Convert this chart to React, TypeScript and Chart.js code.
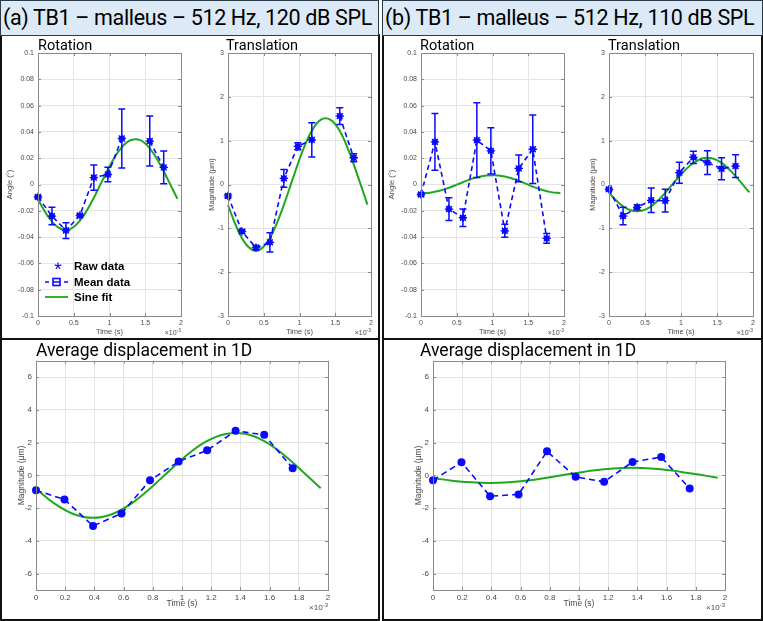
import { useEffect, useRef } from 'react';
import { Chart, registerables } from 'chart.js';

Chart.register(...registerables);

// ---- sampling instants (ms; axis shows seconds ×10^-3) ----
const sampleTimes = [0, 0.195, 0.391, 0.586, 0.781, 0.977, 1.172, 1.367, 1.563, 1.758];
const fitTimes = [0, 0.13, 0.26, 0.39, 0.52, 0.65, 0.78, 0.91, 1.04, 1.17, 1.3, 1.43, 1.56, 1.69, 1.82, 1.95];

// ---- tick labels ----
const timeTicksTop = [0, 0.5, 1, 1.5, 2];
const timeTicksBottom = [0, 0.2, 0.4, 0.6, 0.8, 1, 1.2, 1.4, 1.6, 1.8, 2];
const angleTicks = [-0.1, -0.08, -0.06, -0.04, -0.02, 0, 0.02, 0.04, 0.06, 0.08, 0.1];
const translationTicks = [-3, -2, -1, 0, 1, 2, 3];
const displacementTicks = [-6, -4, -2, 0, 2, 4, 6];

// ---- (a) 512 Hz, 120 dB SPL ----
const rotation120 = [-0.0095, -0.024, -0.035, -0.0235, 0.0053, 0.0076, 0.035, null, 0.033, 0.013];
const rotation120Err = [0.0012, 0.0067, 0.006, 0.0012, 0.0096, 0.0055, 0.0225, null, 0.019, 0.0125];
const rotation120Fit = [-0.0113, -0.0235, -0.0317, -0.0345, -0.0313, -0.0227, -0.0102, 0.0041, 0.0176, 0.0282, 0.0338, 0.0337, 0.0277, 0.017, 0.0033, -0.0109];

const translation120 = [-0.26, -1.07, -1.44, -1.32, 0.14, 0.87, 1.02, null, 1.56, 0.61];
const translation120Err = [0.04, 0.04, 0.05, 0.22, 0.2, 0.08, 0.39, null, 0.19, 0.09];
const translation120Fit = [-0.47, -1.01, -1.38, -1.51, -1.38, -1.01, -0.47, 0.15, 0.75, 1.22, 1.48, 1.48, 1.23, 0.76, 0.17, -0.46];

const displacement120 = [-0.91, -1.47, -3.09, -2.32, -0.3, 0.85, 1.53, 2.72, 2.48, 0.44];
const displacement120Fit = [-0.81, -1.74, -2.37, -2.59, -2.37, -1.74, -0.81, 0.26, 1.29, 2.09, 2.53, 2.54, 2.11, 1.31, 0.29, -0.78];

// ---- (b) 512 Hz, 110 dB SPL ----
const rotation110 = [-0.0076, 0.0324, -0.0187, -0.0253, 0.0337, 0.0256, -0.0352, 0.0122, 0.0268, -0.041];
const rotation110Err = [0.0012, 0.0215, 0.0086, 0.0066, 0.0284, 0.0176, 0.005, 0.0102, 0.026, 0.0037];
const rotation110Fit = [-0.0066, -0.0062, -0.0048, -0.0025, 0.0003, 0.0031, 0.0054, 0.0068, 0.007, 0.0061, 0.0041, 0.0014, -0.0015, -0.004, -0.0058, -0.0066];

const translation110 = [-0.11, -0.72, -0.52, -0.36, -0.37, 0.27, 0.62, 0.5, 0.36, 0.42];
const translation110Err = [0.03, 0.2, 0.05, 0.28, 0.26, 0.24, 0.14, 0.27, 0.25, 0.26];
const translation110Fit = [-0.19, -0.41, -0.56, -0.61, -0.56, -0.41, -0.19, 0.06, 0.3, 0.49, 0.6, 0.6, 0.5, 0.31, 0.07, -0.18];

const displacement110 = [-0.29, 0.8, -1.27, -1.16, 1.47, -0.09, -0.39, 0.82, 1.12, -0.8];
const displacement110Fit = [-0.17, -0.32, -0.42, -0.46, -0.42, -0.31, -0.14, 0.05, 0.23, 0.37, 0.45, 0.45, 0.37, 0.23, 0.05, -0.14];

const BLUE = '#0a0aff';
const GREEN = '#1fa81f';
const GRID = '#e4e4e4';
const FRAME = '#8a8a8a';
const LABEL = '#4a4a4a';
const SANS = '"Liberation Sans", Arial, Helvetica, sans-serif';
const TITLE_FONT = 'Roboto, "Noto Sans", sans-serif';

type PanelSpec = {
  id: string;
  box: [number, number, number, number]; // canvas: left, top, right, bottom
  plot: [number, number, number, number]; // plot area: left, top, right, bottom
  yMin: number;
  yMax: number;
  xTicks: number[];
  yTicks: number[];
  values: (number | null)[];
  errors?: (number | null)[];
  fit: number[];
  yTitle: string;
  yTitleGap: number;
  xTitleGap: number;
  tickSize: number;
  titleSize: number;
  stars: boolean;
  legend?: boolean;
};

const panels: PanelSpec[] = [
  {
    id: 'rot120', box: [2, 40, 190, 337], plot: [38, 53, 181, 316],
    yMin: -0.1, yMax: 0.1, xTicks: timeTicksTop, yTicks: angleTicks,
    values: rotation120, errors: rotation120Err, fit: rotation120Fit,
    yTitle: 'Angle (°)', yTitleGap: 28, xTitleGap: 15.5, tickSize: 7, titleSize: 7.5, stars: true, legend: true,
  },
  {
    id: 'tra120', box: [190, 40, 377, 337], plot: [228, 53, 371, 316],
    yMin: -3, yMax: 3, xTicks: timeTicksTop, yTicks: translationTicks,
    values: translation120, errors: translation120Err, fit: translation120Fit,
    yTitle: 'Magnitude (μm)', yTitleGap: 16.5, xTitleGap: 15.5, tickSize: 7, titleSize: 7.5, stars: true,
  },
  {
    id: 'rot110', box: [384, 40, 571, 337], plot: [421, 53, 564, 316],
    yMin: -0.1, yMax: 0.1, xTicks: timeTicksTop, yTicks: angleTicks,
    values: rotation110, errors: rotation110Err, fit: rotation110Fit,
    yTitle: 'Angle (°)', yTitleGap: 29, xTitleGap: 15.5, tickSize: 7, titleSize: 7.5, stars: true,
  },
  {
    id: 'tra110', box: [571, 40, 761, 337], plot: [609, 53, 753, 316],
    yMin: -3, yMax: 3, xTicks: timeTicksTop, yTicks: translationTicks,
    values: translation110, errors: translation110Err, fit: translation110Fit,
    yTitle: 'Magnitude (μm)', yTitleGap: 16.5, xTitleGap: 15.5, tickSize: 7, titleSize: 7.5, stars: true,
  },
  {
    id: 'disp120', box: [2, 352, 377, 619], plot: [36, 359, 328, 590],
    yMin: -7, yMax: 7, xTicks: timeTicksBottom, yTicks: displacementTicks,
    values: displacement120, fit: displacement120Fit,
    yTitle: 'Magnitude (μm)', yTitleGap: 14, xTitleGap: 14, tickSize: 8, titleSize: 8.5, stars: false,
  },
  {
    id: 'disp110', box: [384, 352, 761, 619], plot: [433, 359, 725, 590],
    yMin: -7, yMax: 7, xTicks: timeTicksBottom, yTicks: displacementTicks,
    values: displacement110, fit: displacement110Fit,
    yTitle: 'Magnitude (μm)', yTitleGap: 14, xTitleGap: 14, tickSize: 8, titleSize: 8.5, stars: false,
  },
];

const fmt = (v: number) => String(Number(v.toFixed(3)));

function decorPlugin(s: PanelSpec) {
  return {
    id: 'decor-' + s.id,
    afterDatasetsDraw(chart: Chart) {
      const { ctx, chartArea: a } = chart;
      const xs = chart.scales.x;
      const ys = chart.scales.y;
      ctx.save();

      // error bars around the mean values
      if (s.errors) {
        ctx.strokeStyle = BLUE;
        ctx.lineWidth = 1.5;
        sampleTimes.forEach((t, i) => {
          const v = s.values[i];
          const e = s.errors![i];
          if (v == null || e == null) return;
          const x = xs.getPixelForValue(t);
          const y1 = ys.getPixelForValue(v + e);
          const y2 = ys.getPixelForValue(v - e);
          ctx.beginPath();
          ctx.moveTo(x, y1); ctx.lineTo(x, y2);
          ctx.moveTo(x - 3.5, y1); ctx.lineTo(x + 3.5, y1);
          ctx.moveTo(x - 3.5, y2); ctx.lineTo(x + 3.5, y2);
          ctx.stroke();
        });
      }

      // axes box with inward ticks
      ctx.strokeStyle = FRAME;
      ctx.lineWidth = 1;
      ctx.strokeRect(Math.round(a.left) + 0.5, Math.round(a.top) + 0.5, Math.round(a.right - a.left), Math.round(a.bottom - a.top));
      ctx.beginPath();
      s.xTicks.forEach((v) => {
        const x = Math.round(xs.getPixelForValue(v)) + 0.5;
        ctx.moveTo(x, a.bottom); ctx.lineTo(x, a.bottom - 3);
        ctx.moveTo(x, a.top); ctx.lineTo(x, a.top + 3);
      });
      s.yTicks.forEach((v) => {
        const y = Math.round(ys.getPixelForValue(v)) + 0.5;
        ctx.moveTo(a.left, y); ctx.lineTo(a.left + 3, y);
        ctx.moveTo(a.right, y); ctx.lineTo(a.right - 3, y);
      });
      ctx.stroke();

      // axis titles
      ctx.fillStyle = LABEL;
      ctx.font = `${s.titleSize}px ${SANS}`;
      ctx.textAlign = 'center';
      ctx.textBaseline = 'middle';
      ctx.fillText('Time (s)', (a.left + a.right) / 2, a.bottom + s.xTitleGap);
      ctx.save();
      ctx.translate(a.left - s.yTitleGap, (a.top + a.bottom) / 2);
      ctx.rotate(-Math.PI / 2);
      ctx.fillText(s.yTitle, 0, 0);
      ctx.restore();

      // ×10^-3 exponent label
      ctx.textAlign = 'right';
      ctx.textBaseline = 'alphabetic';
      ctx.font = `${s.tickSize - 2}px ${SANS}`;
      const expW = ctx.measureText('-3').width;
      const ey = a.bottom + (s.tickSize > 7 ? 20 : 19);
      ctx.fillText('-3', a.right, ey - 3);
      ctx.font = `${s.tickSize}px ${SANS}`;
      ctx.fillText('×10', a.right - expW, ey);

      // legend
      if (s.legend) {
        const lx = a.left;
        const ly = a.top + 213;
        ctx.font = `bold 11.5px ${SANS}`;
        ctx.fillStyle = '#000';
        ctx.textAlign = 'left';
        ctx.textBaseline = 'middle';
        // raw data: asterisk
        ctx.strokeStyle = BLUE;
        ctx.lineWidth = 1.2;
        ctx.beginPath();
        for (let k = 0; k < 5; k++) {
          const ang = -Math.PI / 2 + (k * 2 * Math.PI) / 5;
          ctx.moveTo(lx + 20, ly);
          ctx.lineTo(lx + 20 + 3.5 * Math.cos(ang), ly + 3.5 * Math.sin(ang));
        }
        ctx.stroke();
        ctx.fillText('Raw data', lx + 36, ly + 1);
        // mean data: dashed line with square
        const my = ly + 16;
        ctx.lineWidth = 1.6;
        ctx.beginPath();
        ctx.moveTo(lx + 7, my); ctx.lineTo(lx + 11, my);
        ctx.moveTo(lx + 26, my); ctx.lineTo(lx + 30, my);
        ctx.moveTo(lx + 15, my); ctx.lineTo(lx + 22, my);
        ctx.stroke();
        ctx.strokeRect(lx + 15, my - 3.5, 7, 7);
        ctx.fillText('Mean data', lx + 36, my + 1);
        // sine fit
        const sy = ly + 31;
        ctx.strokeStyle = GREEN;
        ctx.lineWidth = 1.8;
        ctx.beginPath();
        ctx.moveTo(lx + 7, sy); ctx.lineTo(lx + 30, sy);
        ctx.stroke();
        ctx.fillText('Sine fit', lx + 36, sy + 1);
      }
      ctx.restore();
    },
  };
}

function buildConfig(s: PanelSpec) {
  const [x0, y0, x1, y1] = s.box;
  const [l, t, r, b] = s.plot;
  const mean = sampleTimes.map((x, i) => ({ x, y: s.values[i] }));
  const fit = fitTimes.map((x, i) => ({ x, y: s.fit[i] }));
  const tickFont = { family: SANS, size: s.tickSize };
  const datasets: any[] = [
    {
      label: 'Mean data', data: mean, borderColor: BLUE, backgroundColor: BLUE,
      borderWidth: 1.6, borderDash: s.stars ? [5, 3.5] : [6, 4], pointRadius: s.stars ? 3 : 4, pointStyle: 'circle',
      pointBorderWidth: 0, spanGaps: false, order: 1, clip: 10,
    },
    {
      label: 'Sine fit', data: fit, borderColor: GREEN, borderWidth: 2,
      pointRadius: 0, tension: 0.4, order: 2, clip: 4,
    },
  ];
  if (s.stars) {
    datasets.unshift({
      label: 'Raw data', data: mean, showLine: false, pointStyle: 'star',
      pointRadius: 4.2, borderColor: BLUE, backgroundColor: BLUE, pointBorderWidth: 1.3,
      order: 0, clip: 10,
    });
  }
  return {
    type: 'line' as const,
    data: { datasets },
    options: {
      animation: false as const,
      responsive: false,
      events: [],
      layout: { padding: { left: 0, top: t - y0, right: x1 - r, bottom: 0 } },
      plugins: { legend: { display: false }, tooltip: { enabled: false } },
      scales: {
        x: {
          type: 'linear' as const, min: 0, max: 2,
          afterBuildTicks: (sc: any) => { sc.ticks = s.xTicks.map((value) => ({ value })); },
          afterFit: (sc: any) => { sc.height = y1 - b; },
          grid: { color: GRID, drawTicks: false },
          border: { display: false },
          ticks: { font: tickFont, color: LABEL, padding: 3, maxRotation: 0, autoSkip: false, callback: (v: any) => fmt(Number(v)) },
        },
        y: {
          type: 'linear' as const, min: s.yMin, max: s.yMax,
          afterBuildTicks: (sc: any) => { sc.ticks = s.yTicks.map((value) => ({ value })); },
          afterFit: (sc: any) => { sc.width = l - x0; },
          grid: { color: GRID, drawTicks: false },
          border: { display: false },
          ticks: { font: tickFont, color: LABEL, padding: 4, autoSkip: false, callback: (v: any) => fmt(Number(v)) },
        },
      },
    },
    plugins: [decorPlugin(s)],
  };
}

function ChartPanel({ spec }: { spec: PanelSpec }) {
  const ref = useRef<HTMLCanvasElement>(null);
  useEffect(() => {
    const chart = new Chart(ref.current as HTMLCanvasElement, buildConfig(spec) as any);
    return () => chart.destroy();
  }, [spec]);
  const [x0, y0, x1, y1] = spec.box;
  return (
    <canvas
      ref={ref}
      width={x1 - x0}
      height={y1 - y0}
      style={{ position: 'absolute', left: x0, top: y0, width: x1 - x0, height: y1 - y0 }}
    />
  );
}

function Text({ x, y, size, children }: { x: number; y: number; size: number; children: string }) {
  return (
    <div style={{ position: 'absolute', left: x, top: y, fontSize: size, lineHeight: 1, fontFamily: TITLE_FONT, color: '#000', whiteSpace: 'nowrap', zIndex: 2 }}>
      {children}
    </div>
  );
}

function Frame({ x, y, w, h }: { x: number; y: number; w: number; h: number }) {
  return (
    <div style={{ position: 'absolute', left: x, top: y, width: w, height: h, boxSizing: 'border-box', border: '2px solid #111', zIndex: 3, pointerEvents: 'none' }} />
  );
}

function Header({ x, w, children }: { x: number; w: number; children: string }) {
  return (
    <div style={{ position: 'absolute', left: x, top: 0, width: w, height: 36, boxSizing: 'border-box', background: '#dce9f6', border: '1.5px solid #2a3a48', zIndex: 4 }}>
      <div style={{ position: 'absolute', left: 2, top: 6, fontSize: 21.5, lineHeight: 1, fontFamily: TITLE_FONT, whiteSpace: 'nowrap', letterSpacing: -0.35, color: '#000' }}>
        {children}
      </div>
    </div>
  );
}

export default function App() {
  return (
    <div style={{ position: 'absolute', left: 0, top: 0, width: 763, height: 621, background: '#fff', overflow: 'hidden' }}>
      {panels.map((p) => <ChartPanel key={p.id} spec={p} />)}
      <Text x={38} y={39} size={14.5}>Rotation</Text>
      <Text x={226} y={39} size={14.5}>Translation</Text>
      <Text x={420} y={39} size={14.5}>Rotation</Text>
      <Text x={608} y={39} size={14.5}>Translation</Text>
      <Text x={36} y={342} size={17.5}>Average displacement in 1D</Text>
      <Text x={420} y={342} size={17.5}>Average displacement in 1D</Text>
      <Frame x={0} y={34} w={380} h={306} />
      <Frame x={0} y={338} w={380} h={283} />
      <Frame x={382} y={34} w={381} h={306} />
      <Frame x={382} y={338} w={381} h={283} />
      <Header x={0} w={379}>(a) TB1 – malleus – 512 Hz, 120 dB SPL</Header>
      <Header x={382} w={381}>(b) TB1 – malleus – 512 Hz, 110 dB SPL</Header>
    </div>
  );
}
